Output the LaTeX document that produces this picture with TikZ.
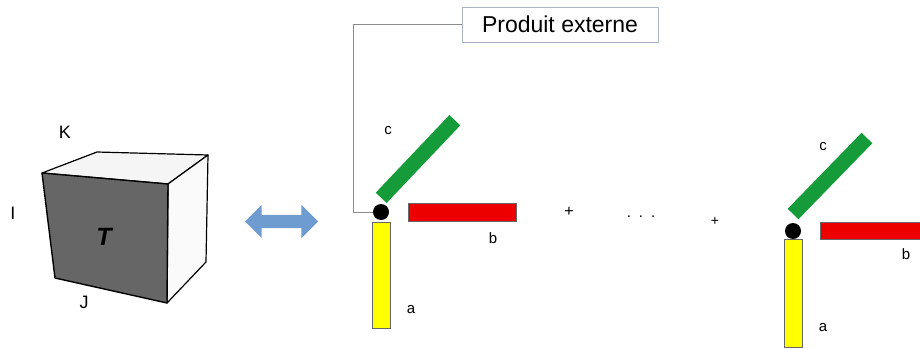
\documentclass[tikz,border=0pt]{standalone}
\usepackage{fontspec}
\setmainfont{Liberation Sans}
\usetikzlibrary{positioning,shapes.arrows}

\definecolor{barred}{RGB}{236,0,0}
\definecolor{baryellow}{RGB}{255,255,0}
\definecolor{bargreen}{RGB}{22,155,58}
\definecolor{arrowblue}{RGB}{110,155,208}
\definecolor{facegray}{RGB}{102,102,102}
\definecolor{boxline}{RGB}{170,182,198}

\begin{document}
\begin{tikzpicture}[
  x=1pt, y=-1pt,
  bar/.style={draw=black!60, line width=0.4pt, inner sep=0pt},
  joint/.style={circle, fill=black, inner sep=0pt, minimum size=16pt},
  lbl/.style={font=\fontsize{15}{17}\selectfont, inner sep=0pt},
  axlbl/.style={font=\fontsize{18}{21}\selectfont, inner sep=0pt},
  conn/.style={draw=black!45, line width=0.5pt},
]
\useasboundingbox (0,0) rectangle (920,348);

% ================= tensor cube =================
\filldraw[fill=black!4, line width=1.2pt, line join=round]
  (42,173) -- (97,152) -- (208,155) -- (168,184) -- cycle;
\filldraw[fill=black!2, line width=1.2pt, line join=round]
  (168,184) -- (208,155) -- (206,262) -- (167,303) -- cycle;
\filldraw[fill=facegray, line width=1.4pt, line join=round]
  (42,173) -- (168,184) -- (167,303) -- (55,278) -- cycle;
\node[axlbl] (K) at (65,132) {K};
\node[axlbl] (I) at (13,213) {I};
\node[axlbl] (J) at (84,302) {J};
\node[font=\fontsize{25}{28}\selectfont\bfseries\itshape, inner sep=0pt] (T) at (104,237) {T};

% equivalence arrow
\node[double arrow, fill=arrowblue, inner xsep=0pt, inner ysep=6.5pt,
      double arrow head extend=10pt, minimum height=73pt] (equiv) at (281.5,221.5) {};

% ================= first term =================
\node[joint] (j1) at (381,212) {};
\node[bar, fill=baryellow, minimum width=18pt, minimum height=106pt, below=2pt of j1] (a1) {};
\node[bar, fill=barred, minimum width=108pt, minimum height=18pt, anchor=west] (b1) at (408,212) {};
\node[bar, fill=bargreen, draw=none, minimum width=107pt, minimum height=15pt, rotate=46.5] (c1) at (418,159) {};
\node[lbl] (la1) at (411,310) {a};
\node[lbl] (lb1) at (493,238) {b};
\node[lbl] (lc1) at (388,131) {c};

% outer product callout
\node[draw=boxline, line width=0.6pt, minimum width=196pt, minimum height=35pt, inner sep=0pt,
      font=\fontsize{23}{27}\selectfont] (prod) at (560,24.5) {Produit externe};
\draw[conn] (prod.west) -- ++(-108,0) |- (j1.west);

% sum
\node[font=\fontsize{16}{18}\selectfont, inner sep=0pt] (plus1) at (569,212) {+};
\node[font=\fontsize{15}{17}\selectfont, inner sep=0pt] (dots) at (641,217) {.\hspace{8pt}.\hspace{8pt}.};
\node[font=\fontsize{14}{16}\selectfont, inner sep=0pt] (plus2) at (715,221) {+};

% ================= last term =================
\node[joint] (j2) at (793,231) {};
\node[bar, fill=baryellow, minimum width=18pt, minimum height=108pt, below=0pt of j2] (a2) {};
\node[bar, fill=barred, minimum width=100pt, minimum height=17pt, anchor=west] (b2) at (820,230.5) {};
\node[bar, fill=bargreen, draw=none, minimum width=106pt, minimum height=15pt, rotate=45.8] (c2) at (830,176) {};
\node[lbl] (la2) at (823,328) {a};
\node[lbl] (lb2) at (906,254) {b};
\node[lbl] (lc2) at (823,147) {c};

\end{tikzpicture}
\end{document}
